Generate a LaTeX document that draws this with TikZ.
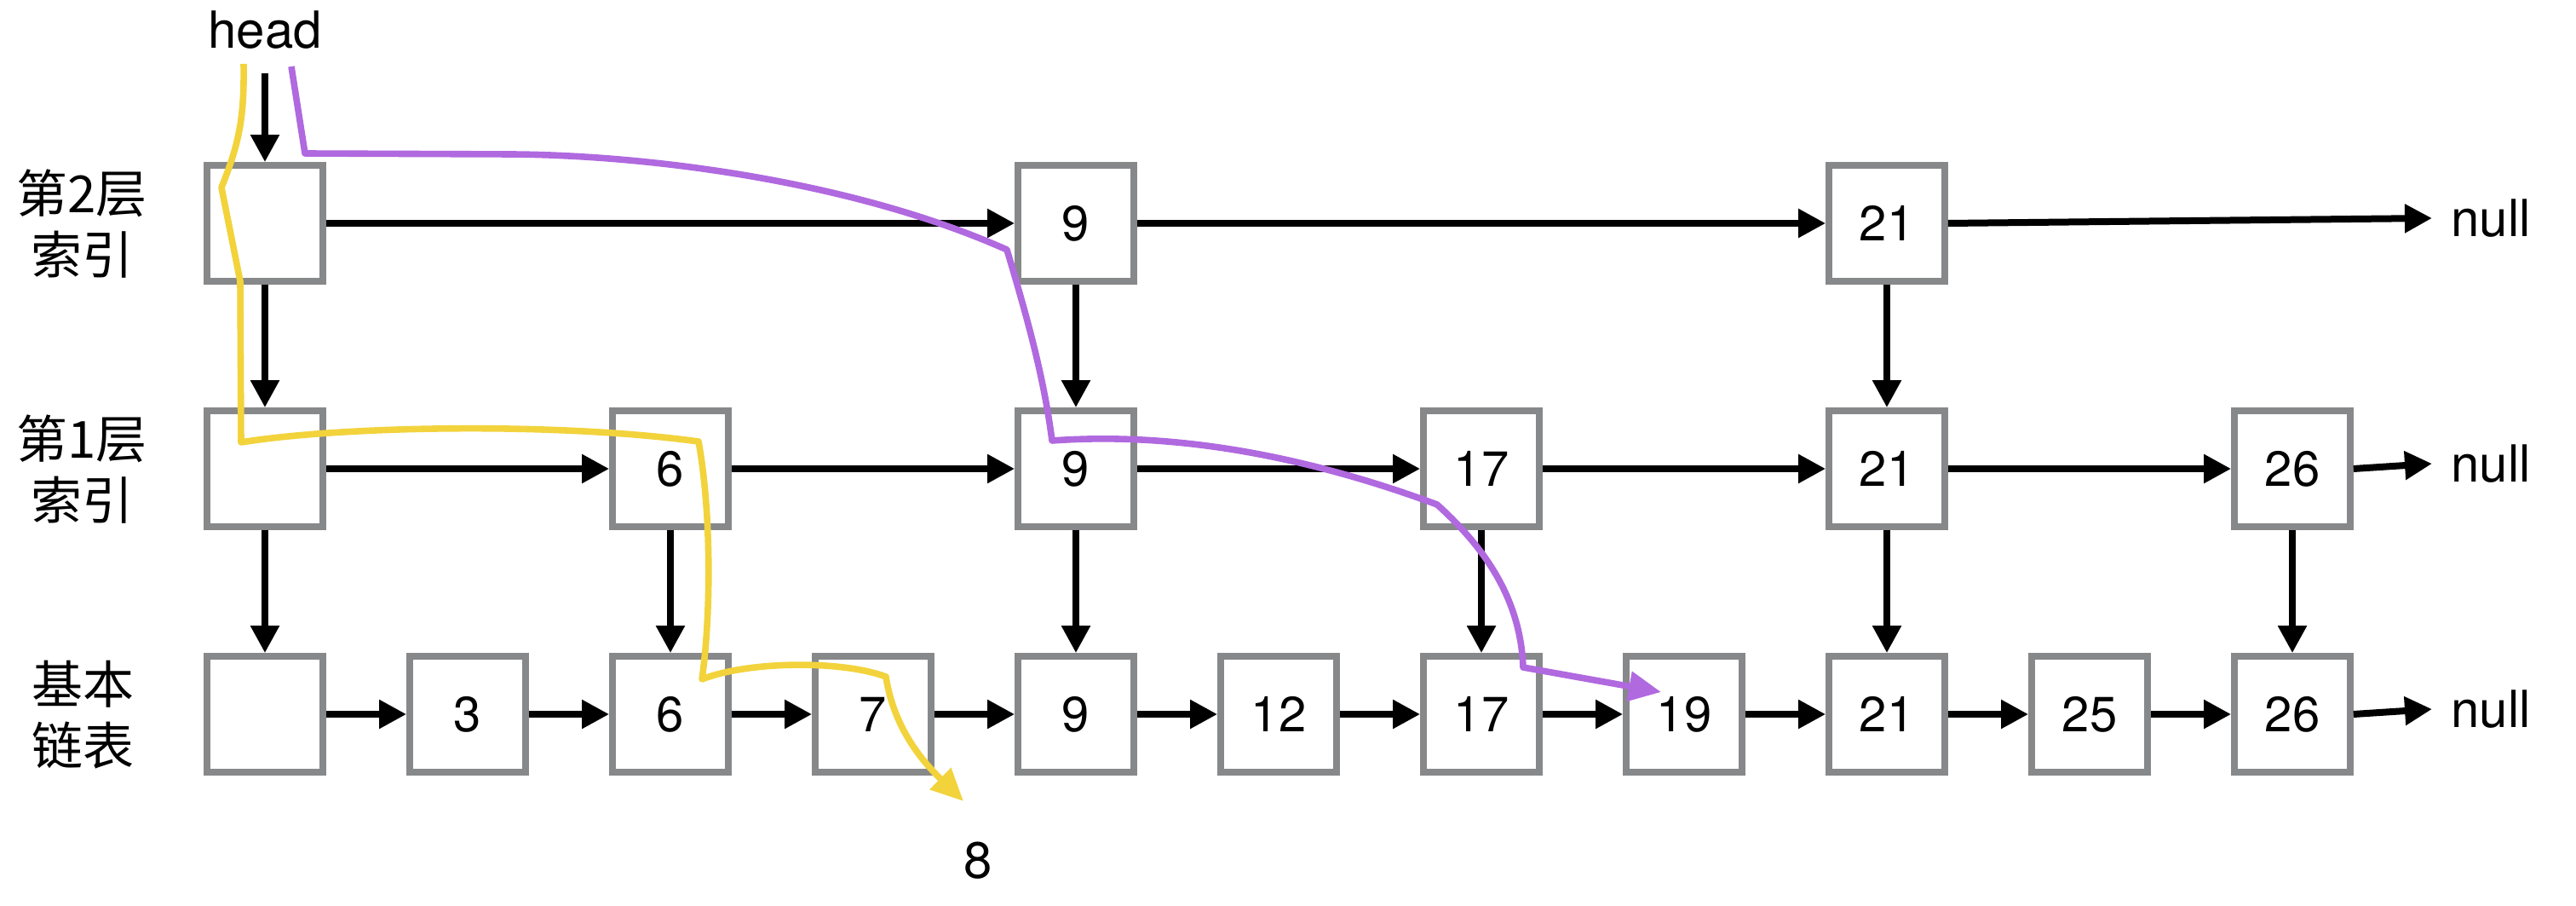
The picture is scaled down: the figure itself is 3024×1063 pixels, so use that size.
\documentclass[tikz,border=0pt]{standalone}
\usepackage{fontspec}
\setmainfont{TeX Gyre Heros}
\newfontfamily\cjk{Noto Sans CJK SC}
\usetikzlibrary{arrows.meta}
\definecolor{boxgray}{HTML}{87888A}
\definecolor{yel}{HTML}{F2D33C}
\definecolor{purp}{HTML}{B069DF}
\begin{document}
\begin{tikzpicture}[x=0.5pt,y=-0.5pt,
  box/.style={draw=boxgray, line width=3.8pt, fill=white, minimum width=68pt, minimum height=68pt, inner sep=0pt, font=\fontsize{29}{34}\selectfont},
  lbl/.style={font=\cjk\fontsize{30}{36}\selectfont, align=center, inner sep=0pt},
  txt/.style={font=\fontsize{30}{36}\selectfont, inner sep=0pt},
  nulltxt/.style={font=\fontsize{30}{36}\selectfont, inner ysep=0pt, inner xsep=11pt, anchor=west},
  link/.style={line width=4pt, -{Triangle[length=16pt,width=16pt]}},
  route/.style={line width=3.8pt, line join=round, fill=none, -{Triangle[length=19pt,width=17pt]}}
]
\useasboundingbox (0,0) rectangle (3024,1063);
\fill[white] (0,0) rectangle (3024,1063);

% labels
\node[lbl] (L2) at (96,263) {第2层\\索引};
\node[lbl] (L1) at (96,551) {第1层\\索引};
\node[lbl] (L0) at (97,839) {基本\\链表};
\node[txt] (head) at (311,35) {head};
\node[txt] (eight) at (1148,1010) {8};

% row 2
\node[box] (h2) at (311,262) {};
\node[box] (t9) at (1263,262) {9};
\node[box] (t21) at (2215,262) {21};
% row 1
\node[box] (h1) at (311,550) {};
\node[box] (m6) at (787,550) {6};
\node[box] (m9) at (1263,550) {9};
\node[box] (m17) at (1739,550) {17};
\node[box] (m21) at (2215,550) {21};
\node[box] (m26) at (2691,550) {26};
% base
\node[box] (b0) at (311,838) {};
\node[box] (b3) at (549,838) {3};
\node[box] (b6) at (787,838) {6};
\node[box] (b7) at (1025,838) {7};
\node[box] (b9) at (1263,838) {9};
\node[box] (b12) at (1501,838) {12};
\node[box] (b17) at (1739,838) {17};
\node[box] (b19) at (1977,838) {19};
\node[box] (b21) at (2215,838) {21};
\node[box] (b25) at (2453,838) {25};
\node[box] (b26) at (2691,838) {26};

% null labels
\node[nulltxt] (n2) at (2855,256) {null};
\node[nulltxt] (n1) at (2855,544) {null};
\node[nulltxt] (n0) at (2855,832) {null};

% head arrow
\draw[link, shorten <=14pt] (head.south) -- (h2.north);

% horizontal links
\draw[link] (h2.east) -- (t9.west);
\draw[link] (t9.east) -- (t21.west);
\draw[link] (t21.east) -- (n2.west);

\draw[link] (h1.east) -- (m6.west);
\draw[link] (m6.east) -- (m9.west);
\draw[link] (m9.east) -- (m17.west);
\draw[link] (m17.east) -- (m21.west);
\draw[link] (m21.east) -- (m26.west);
\draw[link] (m26.east) -- (n1.west);

\draw[link] (b0.east) -- (b3.west);
\draw[link] (b3.east) -- (b6.west);
\draw[link] (b6.east) -- (b7.west);
\draw[link] (b7.east) -- (b9.west);
\draw[link] (b9.east) -- (b12.west);
\draw[link] (b12.east) -- (b17.west);
\draw[link] (b17.east) -- (b19.west);
\draw[link] (b19.east) -- (b21.west);
\draw[link] (b21.east) -- (b25.west);
\draw[link] (b25.east) -- (b26.west);
\draw[link] (b26.east) -- (n0.west);

% vertical links
\draw[link] (h2.south) -- (h1.north);
\draw[link] (t9.south) -- (m9.north);
\draw[link] (t21.south) -- (m21.north);
\draw[link] (h1.south) -- (b0.north);
\draw[link] (m6.south) -- (b6.north);
\draw[link] (m9.south) -- (b9.north);
\draw[link] (m17.south) -- (b17.north);
\draw[link] (m21.south) -- (b21.north);
\draw[link] (m26.south) -- (b26.north);

% search routes
\coordinate (ys) at (286,75);
\coordinate (ye) at (1131,940);
\draw[route, draw=yel] (ys) .. controls (287,140) and (280,170) .. (260,220) -- (282,330) -- (283,519)
  .. controls (400,500) and (650,495) .. (820,518)
  .. controls (835,600) and (835,720) .. (824,797)
  .. controls (880,775) and (990,775) .. (1040,794)
  .. controls (1050,860) and (1090,900) .. (ye);

\coordinate (ps) at (342,78);
\coordinate (pe) at (1950,812);
\draw[route, draw=purp] (ps) -- (358,180) -- (600,181)
  .. controls (760,182) and (1000,212) .. (1182,293)
  .. controls (1205,370) and (1225,440) .. (1235,517)
  .. controls (1400,505) and (1560,545) .. (1687,592)
  .. controls (1740,640) and (1785,700) .. (1788,783)
  -- (pe);
\end{tikzpicture}
\end{document}
